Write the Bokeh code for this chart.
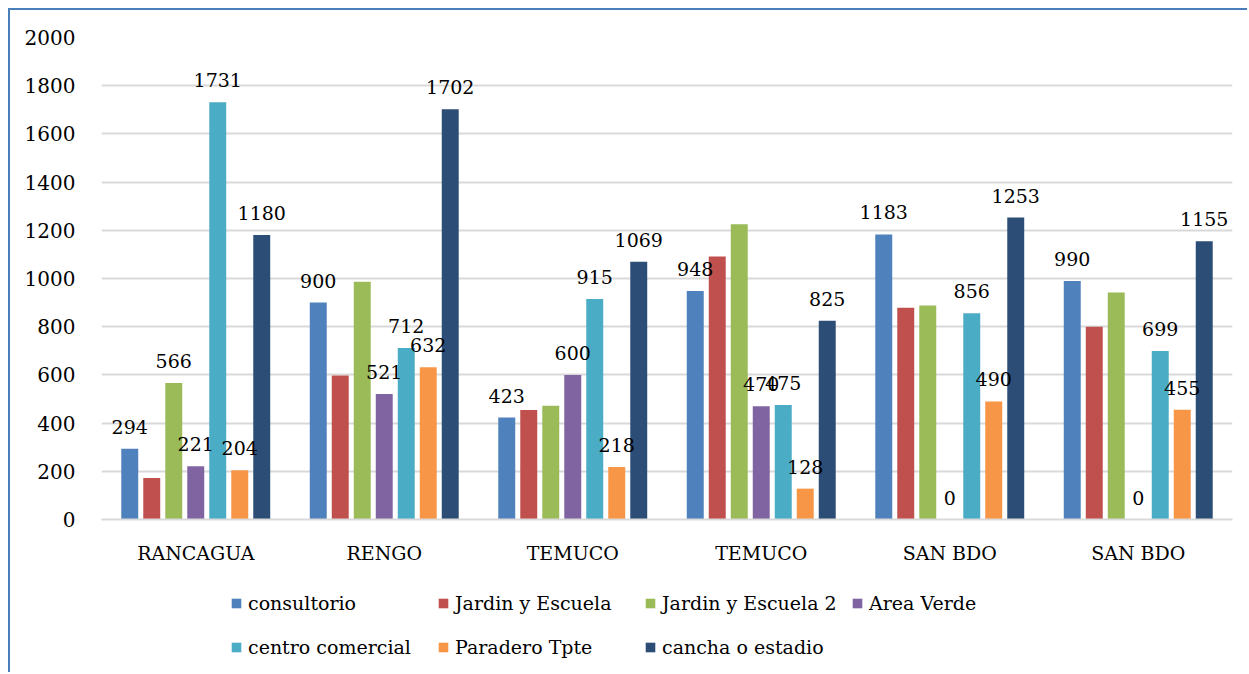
from bokeh.plotting import figure
from bokeh.layouts import column
from bokeh.models import ColumnDataSource, Range1d, FixedTicker, LabelSet, Legend, LegendItem
from bokeh.embed import file_html
from bokeh.resources import INLINE
from bokeh.core.properties import value

categories = ["RANCAGUA", "RENGO", "TEMUCO", "TEMUCO", "SAN BDO", "SAN BDO"]
series_names = ["consultorio", "Jardin y Escuela", "Jardin y Escuela 2", "Area Verde",
                "centro comercial", "Paradero Tpte", "cancha o estadio"]
consultorio = [294, 900, 423, 948, 1183, 990]
jardin_escuela = [172, 597, 454, 1091, 879, 800]
jardin_escuela_2 = [566, 986, 472, 1225, 888, 942]
area_verde = [221, 521, 600, 470, 0, 0]
centro_comercial = [1731, 712, 915, 475, 856, 699]
paradero_tpte = [204, 632, 218, 128, 490, 455]
cancha_estadio = [1180, 1702, 1069, 825, 1253, 1155]
series_values = [consultorio, jardin_escuela, jardin_escuela_2, area_verde,
                 centro_comercial, paradero_tpte, cancha_estadio]
# which bars carry a data label in the original
labeled = [
    [True, True, True, True, True, True],
    [False, False, False, False, False, False],
    [True, False, False, False, False, False],
    [True, True, True, True, True, True],
    [True, True, True, True, True, True],
    [True, True, True, True, True, True],
    [True, True, True, True, True, True],
]
colors = ["#4F81BD", "#C0504D", "#9BBB59", "#8064A2", "#4BACC6", "#F79646", "#2C4D75"]
y_ticks = [0, 200, 400, 600, 800, 1000, 1200, 1400, 1600, 1800, 2000]

FONT = "DejaVu Serif"
BAR_PITCH = 0.1167
BAR_WIDTH = 0.09
W = 1237

p = figure(width=W, height=570, output_backend="svg", toolbar_location=None,
           x_range=Range1d(0, len(categories)), y_range=Range1d(0, 2000),
           min_border_left=91, min_border_right=15, min_border_top=27, min_border_bottom=61)
p.outline_line_color = None
p.background_fill_color = "white"
p.border_fill_color = "white"

renderers = []
label_x, label_y, label_t = [], [], []
for k, (name, vals, col) in enumerate(zip(series_names, series_values, colors)):
    xs = [i + 0.5 + (k - 3) * BAR_PITCH for i in range(len(categories))]
    src = ColumnDataSource(dict(x=xs, top=vals))
    r = p.vbar(x="x", top="top", width=BAR_WIDTH, bottom=0, source=src,
               fill_color=col, line_color=None)
    renderers.append(r)
    for i, v in enumerate(vals):
        if labeled[k][i]:
            label_x.append(xs[i])
            label_y.append(v)
            label_t.append(str(v))

lab_src = ColumnDataSource(dict(x=label_x, y=label_y, t=label_t))
labels = LabelSet(x="x", y="y", text="t", source=lab_src, text_align="center",
                  text_baseline="alphabetic", y_offset=15,
                  text_font=value(FONT), text_font_size="19px", text_color="#000000")
p.add_layout(labels)

# axes
p.xaxis.ticker = FixedTicker(ticks=[i + 0.5 for i in range(len(categories))])
p.xaxis.major_label_overrides = {i + 0.5: c for i, c in enumerate(categories)}
p.xaxis.major_tick_line_color = None
p.xaxis.minor_tick_line_color = None
p.xaxis.axis_line_color = "#D9D9D9"
p.xaxis.axis_line_width = 2
p.xaxis.major_label_standoff = 16
p.xaxis.major_label_text_font = FONT
p.xaxis.major_label_text_font_size = "19px"
p.xaxis.major_label_text_color = "#000000"

p.yaxis.ticker = FixedTicker(ticks=y_ticks)
p.yaxis.axis_line_color = None
p.yaxis.major_tick_line_color = None
p.yaxis.minor_tick_line_color = None
p.yaxis.major_label_standoff = 20
p.yaxis.major_label_text_font = FONT
p.yaxis.major_label_text_font_size = "20px"
p.yaxis.major_label_text_color = "#000000"

p.xgrid.grid_line_color = None
p.ygrid.grid_line_color = "#D9D9D9"
p.ygrid.grid_line_width = 2

# legend panel (separate strip below the chart, frames aligned with the chart)
LH = 92
q = figure(width=W, height=LH, output_backend="svg", toolbar_location=None,
           x_range=Range1d(0, 1), y_range=Range1d(0, 1),
           x_axis_type=None, y_axis_type=None,
           min_border_left=91, min_border_right=15, min_border_top=0, min_border_bottom=0)
q.grid.visible = False
q.outline_line_color = None
q.background_fill_color = "white"
q.border_fill_color = "white"
swatches = []
for col in colors:
    # swatch-only renderers with zero-height bars (nothing drawn in the strip itself)
    swatches.append(q.vbar(x=[0.5], top=[0], bottom=[0], width=0.0, fill_color=col, line_color=None))


def make_legend(idx, loc):
    leg = Legend(items=[LegendItem(label=series_names[j], renderers=[swatches[j]]) for j in idx],
                 orientation="horizontal", location=loc,
                 glyph_width=12, glyph_height=12, label_standoff=6, label_width=183,
                 spacing=6, padding=0, margin=0, border_line_color=None,
                 background_fill_alpha=0,
                 label_text_font=FONT, label_text_font_size="19px", label_text_color="#000000")
    q.add_layout(leg, "center")


make_legend([0, 1, 2, 3], (129, 58))
make_legend([4, 5, 6], (129, 14))

layout = column(p, q, spacing=0)
layout.styles = {"margin-left": "8px", "margin-top": "8px",
                 "border-left": "2px solid #4A7EBB", "border-top": "2px solid #4A7EBB"}

open("out.html", "w").write(file_html(layout, INLINE))
